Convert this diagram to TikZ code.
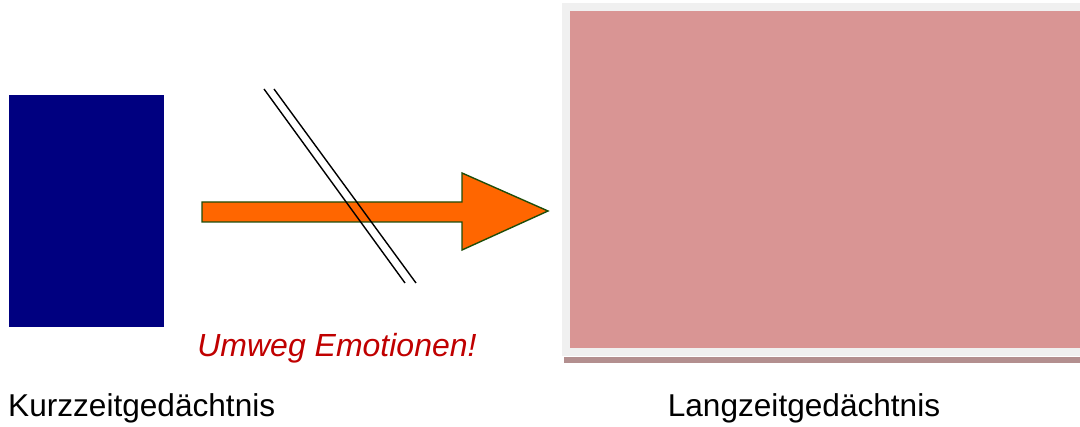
\documentclass[tikz,border=0pt]{standalone}
\usepackage{fontspec}
\setmainfont{Liberation Sans}
\definecolor{stmblue}{HTML}{000080}
\definecolor{ltmpink}{HTML}{D99594}
\definecolor{ltmframe}{HTML}{F0F0F0}
\definecolor{ltmshadow}{HTML}{B38F8F}
\definecolor{arroworange}{HTML}{FF6600}
\definecolor{arrowgreen}{HTML}{1E4D0A}
\definecolor{emored}{HTML}{C00000}
\tikzset{
  label/.style={inner sep=0pt, font=\fontsize{31.6}{37}\selectfont},
  flowarrow/.style={fill=arroworange, draw=arrowgreen, line width=1.4pt, line join=miter},
  barline/.style={draw=black, line width=1.4pt},
}
\begin{document}
\begin{tikzpicture}[x=1pt, y=-1pt]
  \useasboundingbox (0,0) rectangle (1080,427);
  % short-term memory block
  \fill[stmblue] (9,95) rectangle (164,327);
  \node[label, anchor=base west] (stm) at (8,417) {Kurzzeitgedächtnis};
  % long-term memory block with frame and shadow
  \fill[ltmshadow] (564,357) rectangle (1080,363);
  \fill[ltmframe] (562,3) rectangle (1080,356);
  \fill[ltmpink] (570,11) rectangle (1080,348);
  \node[label, anchor=base] (ltm) at (804,417) {Langzeitgedächtnis};
  % transfer arrow
  \coordinate (tail) at (202,212);
  \coordinate (tip) at (548,211);
  \draw[flowarrow] (202,202) -- (462,202) -- (462,173) -- (tip) -- (462,250) -- (462,222) -- (202,222) -- cycle;
  % blocking double bar
  \coordinate (b1s) at (264,89);
  \coordinate (b1e) at (405,283);
  \coordinate (b2s) at (274,89);
  \coordinate (b2e) at (416,283);
  \draw[barline] (b1s) -- (b1e);
  \draw[barline] (b2s) -- (b2e);
  \node[label, anchor=base, text=emored, font=\fontsize{32}{38}\selectfont\itshape] (detour) at (337,357) {Umweg Emotionen!};
\end{tikzpicture}
\end{document}
